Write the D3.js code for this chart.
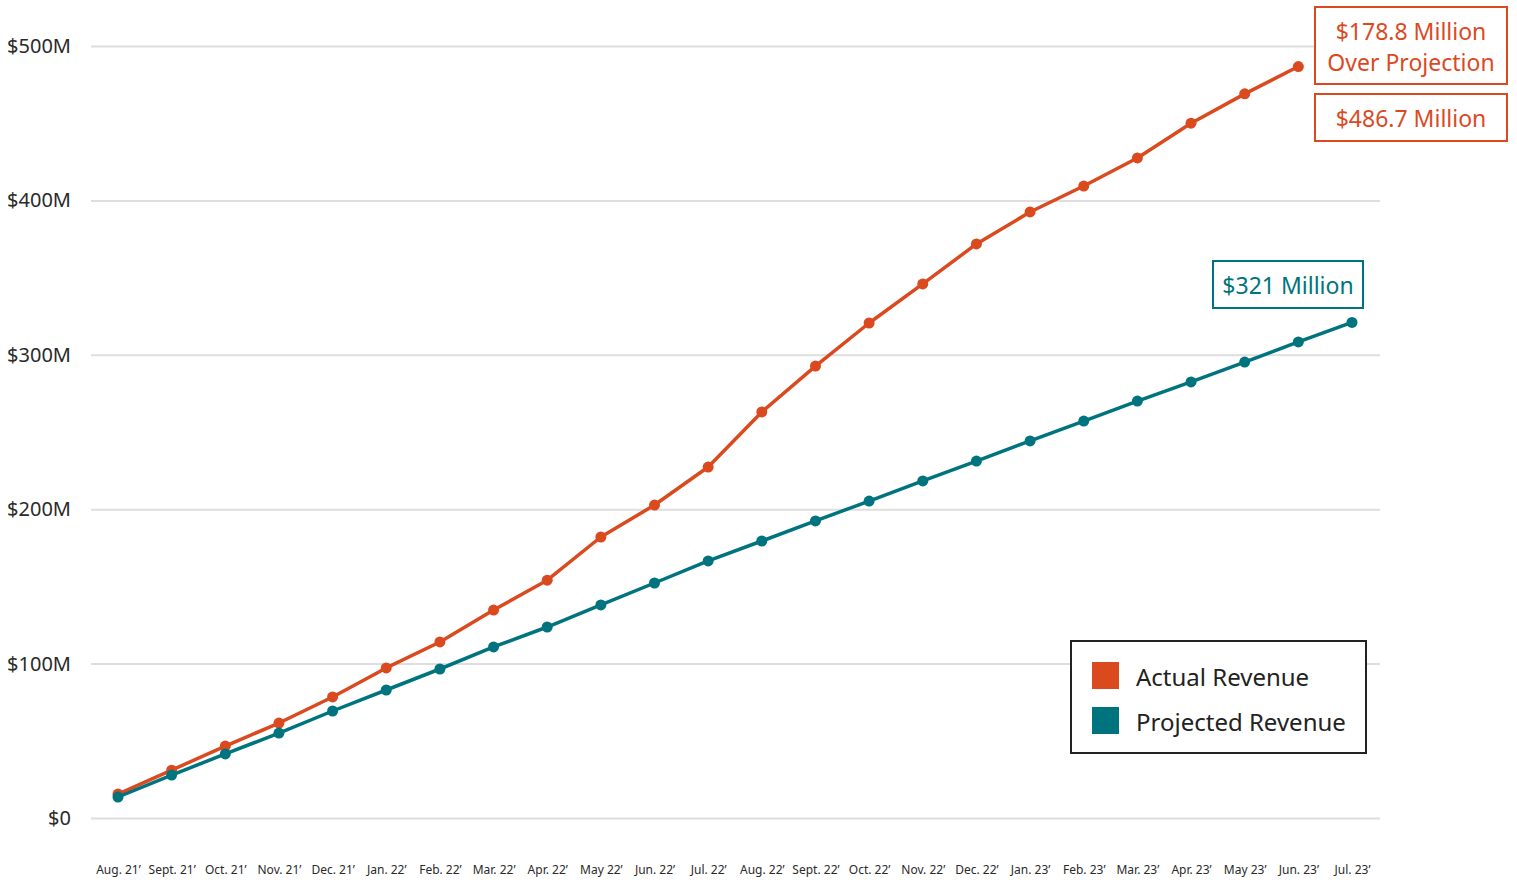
<!DOCTYPE html>
<html><head><meta charset="utf-8">
<script src="https://cdn.jsdelivr.net/npm/d3@7"></script>
<style>body{margin:0;background:#fff;}svg{display:block;}</style>
</head><body><svg id="c" width="1517" height="883"></svg>
<script>
const months = ["Aug. 21\u2019","Sept. 21\u2019","Oct. 21\u2019","Nov. 21\u2019","Dec. 21\u2019","Jan. 22\u2019","Feb. 22\u2019","Mar. 22\u2019","Apr. 22\u2019","May 22\u2019","Jun. 22\u2019","Jul. 22\u2019","Aug. 22\u2019","Sept. 22\u2019","Oct. 22\u2019","Nov. 22\u2019","Dec. 22\u2019","Jan. 23\u2019","Feb. 23\u2019","Mar. 23\u2019","Apr. 23\u2019","May 23\u2019","Jun. 23\u2019","Jul. 23\u2019"];
const actual = [15.5,31,46.6,61.5,78.4,97.2,114,134.7,154,182,202.7,227.3,263,292.7,320.6,345.9,371.8,392.5,409.3,427.5,450,469,486.7];
const projected = [13.6,27.8,41.5,55,69.3,82.9,96.5,110.8,123.7,138,152.2,166.5,179.4,192.4,205.3,218.3,231.2,244.2,257.1,270,282.4,295.3,308.3,321];
const yTicks = [0,100,200,300,400,500];
const yTickLabels = ["$0","$100M","$200M","$300M","$400M","$500M"];
const seriesNames = ["Actual Revenue","Projected Revenue"];
const notes = ["$178.8 Million","Over Projection","$486.7 Million","$321 Million"];

const ORANGE = "#DB4A1F", TEAL = "#00747E";
const font = "'Noto Sans', sans-serif";
const svg = d3.select("#c");
const x = d3.scalePoint().domain(months).range([118, 1352]);
const y = d3.scaleLinear().domain([0, 500]).range([818, 46]);

// grid
const yAxis = d3.axisLeft(y).tickValues(yTicks).tickSize(-(1380-91)).tickFormat((d,i)=>yTickLabels[i]).tickPadding(20);
const gy = svg.append("g").attr("transform","translate(91,0)").call(yAxis);
gy.select(".domain").remove();
gy.selectAll(".tick line").attr("stroke","#dedede").attr("stroke-width",2);
gy.selectAll(".tick text").attr("font-family",font).attr("font-size",20).attr("fill","#2a2a2a");

// x axis
const xAxis = d3.axisBottom(x).tickSize(0).tickPadding(0);
const gx = svg.append("g").attr("transform","translate(0,866)").call(xAxis);
gx.select(".domain").remove();
gx.selectAll(".tick text").attr("font-family",font).attr("font-size",12).attr("fill","#2a2a2a").attr("dy","0.7em");

function drawSeries(vals, color){
  const data = vals.map((v,i)=>({m:months[i], v}));
  svg.append("path").datum(data).attr("fill","none").attr("stroke",color).attr("stroke-width",3.5)
    .attr("stroke-linejoin","round")
    .attr("d", d3.line().x(d=>x(d.m)).y(d=>y(d.v)));
  svg.append("g").selectAll("circle").data(data).join("circle")
    .attr("cx",d=>x(d.m)).attr("cy",d=>y(d.v)).attr("r",5.5).attr("fill",color);
}
drawSeries(actual, ORANGE);
drawSeries(projected, TEAL);

// annotations
function box(x0,y0,w,h,color){
  svg.append("rect").attr("x",x0).attr("y",y0).attr("width",w).attr("height",h)
    .attr("fill","#fff").attr("stroke",color).attr("stroke-width",2);
}
function txt(xc,yc,t,color,size){
  svg.append("text").attr("x",xc).attr("y",yc).attr("text-anchor","middle").attr("dominant-baseline","central")
    .attr("font-family",font).attr("font-size",size).attr("fill",color).text(t);
}
box(1315,7,192,77,ORANGE);
txt(1411,31,notes[0],ORANGE,23);
txt(1411,62,notes[1],ORANGE,23);
box(1315,94,192,47,ORANGE);
txt(1411,117.5,notes[2],ORANGE,23);
box(1213,261,150,47,TEAL);
txt(1288,284.5,notes[3],TEAL,23);

// legend
svg.append("rect").attr("x",1071).attr("y",641).attr("width",295).attr("height",112)
  .attr("fill","#fff").attr("stroke","#222").attr("stroke-width",2);
[ORANGE,TEAL].forEach((c,i)=>{
  svg.append("rect").attr("x",1092).attr("y",662+i*45).attr("width",27).attr("height",27).attr("fill",c);
  svg.append("text").attr("x",1136).attr("y",676+i*45).attr("dominant-baseline","central")
    .attr("font-family",font).attr("font-size",24).attr("fill","#222").text(seriesNames[i]);
});
</script></body></html>
